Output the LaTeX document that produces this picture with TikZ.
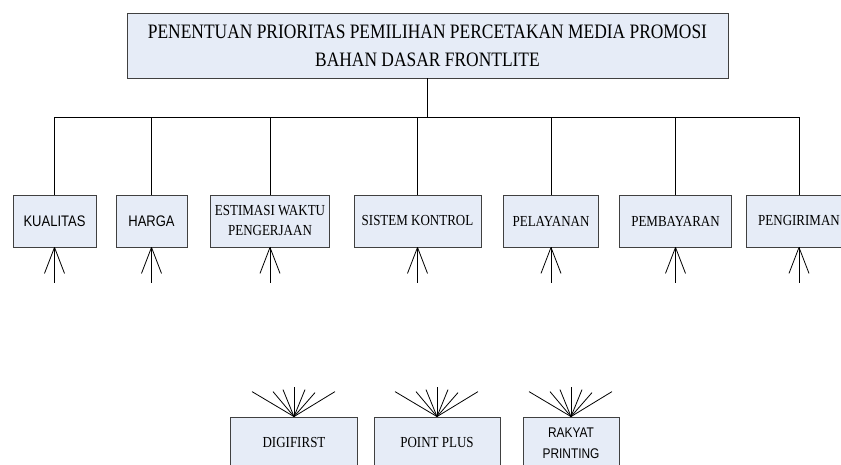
\documentclass[tikz,border=0pt]{standalone}
\usepackage{fontspec}
\setmainfont{Liberation Serif}[FakeStretch=0.85]
\setsansfont{Liberation Sans}[FakeStretch=0.85]
\definecolor{boxfill}{RGB}{230,236,247}
\begin{document}
\begin{tikzpicture}[x=1pt,y=-1pt,line width=0.8pt,
  box/.style={draw=black!75,fill=boxfill,inner sep=0pt,minimum height=52pt,align=center,font=\fontsize{15.3}{20}\selectfont},
  sbox/.style={box,font=\sffamily\fontsize{15.3}{20}\selectfont}]
\useasboundingbox (0,0) rectangle (841,464);
\clip (0,0) rectangle (841,464);
% goal
\node[box,minimum width=601pt,minimum height=65pt,font=\fontsize{20.5}{28}\selectfont] (goal) at (427.5,45.5)
  {PENENTUAN PRIORITAS PEMILIHAN PERCETAKAN MEDIA PROMOSI\\BAHAN DASAR FRONTLITE};
% criteria
\node[sbox,minimum width=83pt] (kual) at (54.5,221) {KUALITAS};
\node[sbox,minimum width=71pt] (harga) at (151.5,221) {HARGA};
\node[box,minimum width=119pt] (est) at (270,221) {ESTIMASI WAKTU\\PENGERJAAN};
\node[box,minimum width=127pt] (sis) at (417.5,221) {SISTEM KONTROL};
\node[box,minimum width=95pt] (lay) at (551,221) {PELAYANAN};
\node[box,minimum width=112pt] (bayar) at (675.5,221) {PEMBAYARAN};
\node[box,minimum width=105pt] (kirim) at (799,221) {PENGIRIMAN};
% alternatives
\node[box,minimum width=127pt] (digi) at (294,443) {DIGIFIRST};
\node[box,minimum width=126pt] (point) at (437,443) {POINT PLUS};
\node[sbox,minimum width=96pt,font=\sffamily\fontsize{14}{21}\selectfont] (rakyat) at (571,443) {RAKYAT\\PRINTING};
% tree
\coordinate (bus) at (0,117);
\draw (goal.south) -- (goal.south |- bus);
\draw (kual.north |- bus) -- (kirim.north |- bus);
\foreach \crit in {kual,harga,est,sis,lay,bayar,kirim}{
  \draw (\crit.north |- bus) -- (\crit.north);
  \draw (\crit.south) -- ++(0,36);
  \draw (\crit.south) -- ++(-10,26) (\crit.south) -- ++(10,26);
}
% fans
\foreach \alt in {digi,point,rakyat}
  \foreach \dx/\dy in {-42/-25,-21/-25,-11/-27,0/-30,11/-27,21/-24,41/-25}
    \draw (\alt.north) -- ++(\dx,\dy);
\end{tikzpicture}
\end{document}
